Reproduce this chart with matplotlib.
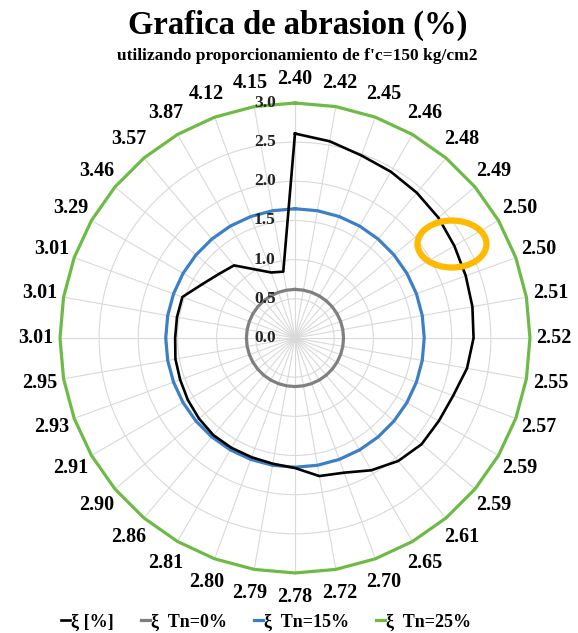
import numpy as np
import matplotlib
matplotlib.use("Agg")
import matplotlib.pyplot as plt
from matplotlib.patches import Ellipse
from matplotlib.transforms import offset_copy

plt.rcParams['font.family'] = ['Liberation Serif', 'DejaVu Serif']
plt.rcParams['font.weight'] = 'bold'

# category labels around the radar (clockwise from top)
categories = ["2.40", "2.42", "2.45", "2.46", "2.48", "2.49", "2.50", "2.50", "2.51",
              "2.52", "2.55", "2.57", "2.59", "2.59", "2.61", "2.65", "2.70", "2.72",
              "2.78", "2.79", "2.80", "2.81", "2.86", "2.90", "2.91", "2.93", "2.95",
              "3.01", "3.01", "3.01", "3.29", "3.46", "3.57", "3.87", "4.12", "4.15"]

# abrasion xi [%]
xi = [2.61, 2.55, 2.48, 2.45, 2.42, 2.39, 2.35, 2.32, 2.30, 2.28, 2.23, 2.15,
      2.12, 2.11, 2.05, 1.95, 1.83, 1.79, 1.66, 1.63, 1.62, 1.62, 1.62, 1.60,
      1.58, 1.56, 1.55, 1.53, 1.53, 1.53, 1.37, 1.27, 1.21, 1.01, 0.89, 0.86]

# reference levels (constant series)
tn0 = 0.62
tn15 = 1.65
tn25 = 3.0

r_ticks = [0.0, 0.5, 1.0, 1.5, 2.0, 2.5, 3.0]

n = len(categories)
theta = np.linspace(0, 2 * np.pi, n, endpoint=False)
theta_c = np.append(theta, theta[0])

fig = plt.figure(figsize=(5.78, 6.33), dpi=100)
ax = fig.add_axes([0.1038, 0.0948, 0.8131, 0.7425], projection='polar')
ax.set_theta_zero_location('N')
ax.set_theta_direction(-1)
ax.set_ylim(0, 3.0)
ax.spines['polar'].set_visible(False)

ax.set_xticks(theta)
ax.set_xticklabels(categories, fontsize=14.5, fontweight='bold')
ax.tick_params(axis='x', pad=7)
ax.set_yticks(r_ticks)
ax.set_yticklabels([])
ax.grid(True, color='#d9d9d9', linewidth=0.8)

ax.plot(theta_c, np.full(n + 1, tn0), color='#7f7f7f', lw=2.3, label='ξ  Tn=0%')
ax.plot(theta_c, np.full(n + 1, tn15), color='#3d7fc6', lw=2.3, label='ξ  Tn=15%')
ax.plot(theta_c, np.full(n + 1, tn25), color='#6dbb46', lw=2.3, label='ξ  Tn=25%', clip_on=False)
ax.plot(theta_c, np.append(xi, xi[0]), color='black', lw=1.9, label='ξ [%]')

# radial labels along the top spoke
tr = offset_copy(ax.transData, fig=fig, x=-14, y=0, units='points')
for v in r_ticks:
    ax.text(0, v, f"{v:.1f}", transform=tr, ha='right', va='center',
            fontsize=12.5, fontweight='bold', color='#222222')

fig.text(0.515, 0.960, "Grafica de abrasion (%)", ha='center', va='center',
         fontsize=23.5, fontweight='bold')
fig.text(0.515, 0.911, "utilizando proporcionamiento de f'c=150 kg/cm2", ha='center',
         va='center', fontsize=12.5, fontweight='bold')

h, l = ax.get_legend_handles_labels()
order = [3, 0, 1, 2]
leg = fig.legend([h[i] for i in order], [l[i] for i in order], loc='center',
                 bbox_to_anchor=(0.46, 0.017), ncol=4, frameon=False,
                 fontsize=13, handlelength=0.5, handletextpad=0.05, columnspacing=1.5)

# highlight ellipse
fig.add_artist(Ellipse((0.782, 0.6145), 0.1194, 0.0742, transform=fig.transFigure,
                       fill=False, edgecolor='#ffba00', lw=4.5))

fig.savefig("out.png", dpi=100)
